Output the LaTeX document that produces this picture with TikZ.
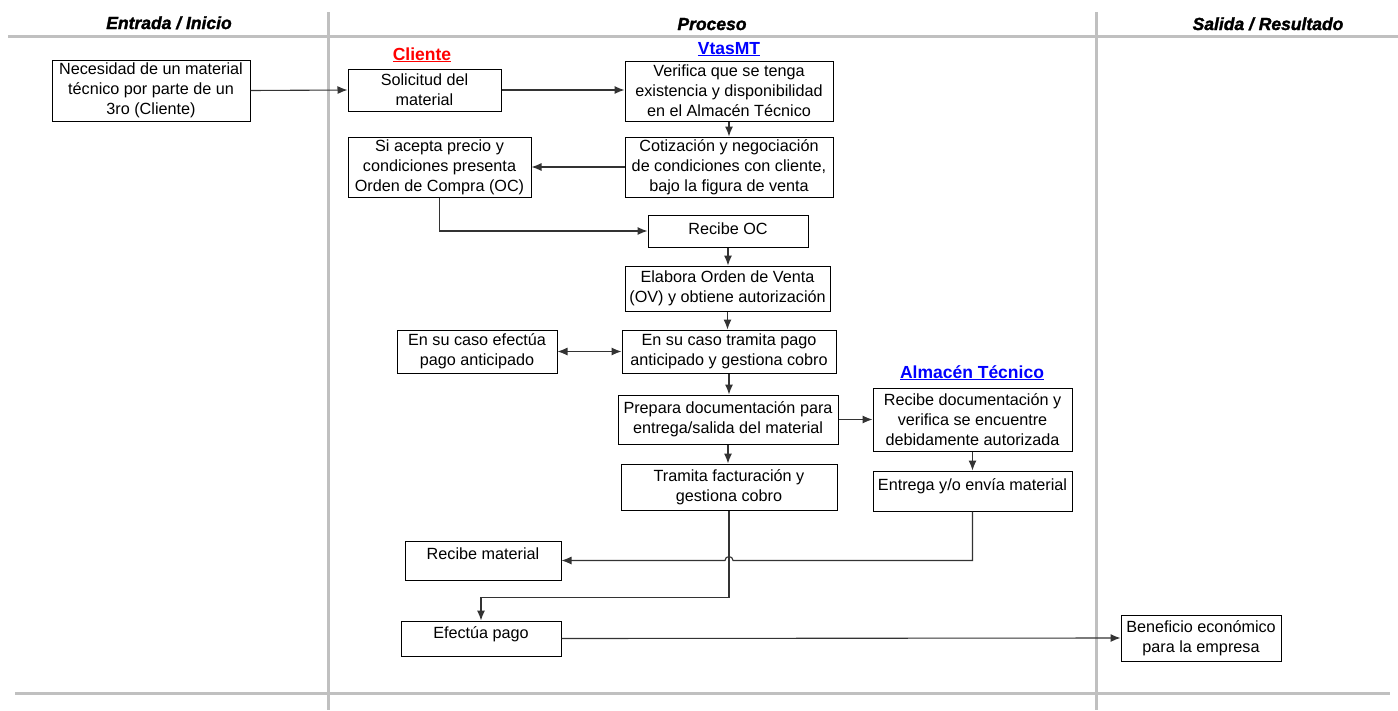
\documentclass[tikz,border=0pt]{standalone}
\usepackage{fontspec}
\setmainfont{Liberation Sans}
\newfontfamily\titlefont{Liberation Sans Bold Italic}[FakeBold=1.6]
\usetikzlibrary{arrows.meta,calc}

\definecolor{lane}{HTML}{C0C0C0}
\definecolor{conn}{HTML}{333333}
\definecolor{actorred}{HTML}{FF0000}
\definecolor{actorblue}{HTML}{0000FF}

\tikzset{
  lanerule/.style={draw=lane, line width=3pt},
  lanetitle/.style={font=\fontsize{17.5}{20}\selectfont\titlefont, inner sep=0pt, anchor=base},
  actor/.style={font=\fontsize{17.5}{20}\selectfont\bfseries, inner sep=0pt, anchor=base},
  stepbox/.style={draw=black, line width=1pt, fill=white, align=center, inner sep=0pt,
                  font=\fontsize{16.2}{20}\selectfont},
  flow/.style={draw=conn, line width=1.1pt, ->},
  flowboth/.style={draw=conn, line width=1.1pt, <->},
}

\begin{document}
\begin{tikzpicture}[x=1pt, y=-1pt, >={Latex[length=10pt,width=8pt]}]
\useasboundingbox (0,0) rectangle (1398,710);

% swimlane frame
\draw[lanerule] (8,36) -- (1398,36);
\draw[lanerule] (15,693) -- (1390,693);
\draw[lanerule] (328,12) -- (328,710);
\draw[lanerule] (1096,12) -- (1096,710);

% lane titles
\node[lanetitle] (tin)  at (169,29) {Entrada / Inicio};
\node[lanetitle] (tpro) at (712,30) {Proceso};
\node[lanetitle] (tout) at (1268,30) {Salida / Resultado};

% actors
\node[actor, text=actorred]  (acli) at (422,60)  {\underline{Cliente}};
\node[actor, text=actorblue] (avta) at (729,54)  {\underline{VtasMT}};
\node[actor, text=actorblue] (aalm) at (972,378) {\underline{Almacén Técnico}};

% steps
\node[stepbox, minimum width=198pt, minimum height=61pt] (nec) at (151,90.5)
  {Necesidad de un material\\técnico por parte de un\\3ro (Cliente)};
\node[stepbox, minimum width=153pt, minimum height=42pt] (sol) at (424.5,90)
  {Solicitud del\\material};
\node[stepbox, minimum width=208pt, minimum height=60pt] (ver) at (729,91)
  {Verifica que se tenga\\existencia y disponibilidad\\en el Almacén Técnico};
\node[stepbox, minimum width=208pt, minimum height=60pt] (cot) at (729,167)
  {Cotización y negociación\\de condiciones con cliente,\\bajo la figura de venta};
\node[stepbox, minimum width=183pt, minimum height=60pt] (sia) at (439.5,167)
  {Si acepta precio y\\condiciones presenta\\Orden de Compra (OC)};
\node[stepbox, minimum width=160pt, minimum height=32pt, text height=12pt, text depth=6pt] (roc) at (728,231)
  {Recibe OC};
\node[stepbox, minimum width=205pt, minimum height=45pt] (ela) at (727.5,288.5)
  {Elabora Orden de Venta\\(OV) y obtiene autorización};
\node[stepbox, minimum width=160pt, minimum height=43pt] (efa) at (477,351.5)
  {En su caso efectúa\\pago anticipado};
\node[stepbox, minimum width=214pt, minimum height=43pt] (tpa) at (729,351.5)
  {En su caso tramita pago\\anticipado y gestiona cobro};
\node[stepbox, minimum width=220pt, minimum height=49pt] (pre) at (728,419.5)
  {Prepara documentación para\\entrega/salida del material};
\node[stepbox, minimum width=199pt, minimum height=63pt] (rdo) at (972.5,419.5)
  {Recibe documentación y\\verifica se encuentre\\debidamente autorizada};
\node[stepbox, minimum width=216pt, minimum height=46pt] (tfa) at (729,487)
  {Tramita facturación y\\gestiona cobro};
\node[stepbox, minimum width=199pt, minimum height=40pt, text height=12pt, text depth=14pt] (ent) at (972.5,491)
  {Entrega y/o envía material};
\node[stepbox, minimum width=156pt, minimum height=39pt, text height=12pt, text depth=15pt] (rma) at (483,560.5)
  {Recibe material};
\node[stepbox, minimum width=160pt, minimum height=35pt, text height=12pt, text depth=13pt] (epa) at (481,638.5)
  {Efectúa pago};
\node[stepbox, minimum width=160pt, minimum height=46pt] (ben) at (1201,638)
  {Beneficio económico\\para la empresa};

% connectors
\draw[flow] (nec.east) -- (sol.west);
\draw[flow] (sol.east) -- (ver.west |- sol.east);
\draw[flow] (ver.south) -- (ver.south |- cot.north);
\draw[flow] (cot.west) -- (sia.east);
\draw[flow] (sia.south) |- (roc.west);
\draw[flow] (roc.south) -- (roc.south |- ela.north);
\draw[flow] (ela.south) -- (ela.south |- tpa.north);
\draw[flowboth] (efa.east) -- (tpa.west);
\draw[flow] (tpa.south) -- (tpa.south |- pre.north);
\draw[flow] (pre.east) -- (pre.east -| rdo.west);
\draw[flow] (pre.south) -- (pre.south |- tfa.north);
\draw[flow] (rdo.south) -- (rdo.south |- ent.north);
\draw[flow] (ent.south) -- (ent.south |- rma.east)
  -- ($(tfa.south |- rma.east)+(4,0)$) arc[start angle=0, end angle=180, radius=4pt]
  -- (rma.east);
\draw[flow] (tfa.south) -- ++(0,87) -| (epa.north);
\draw[flow] (epa.east) -- (ben.west);

\end{tikzpicture}
\end{document}
